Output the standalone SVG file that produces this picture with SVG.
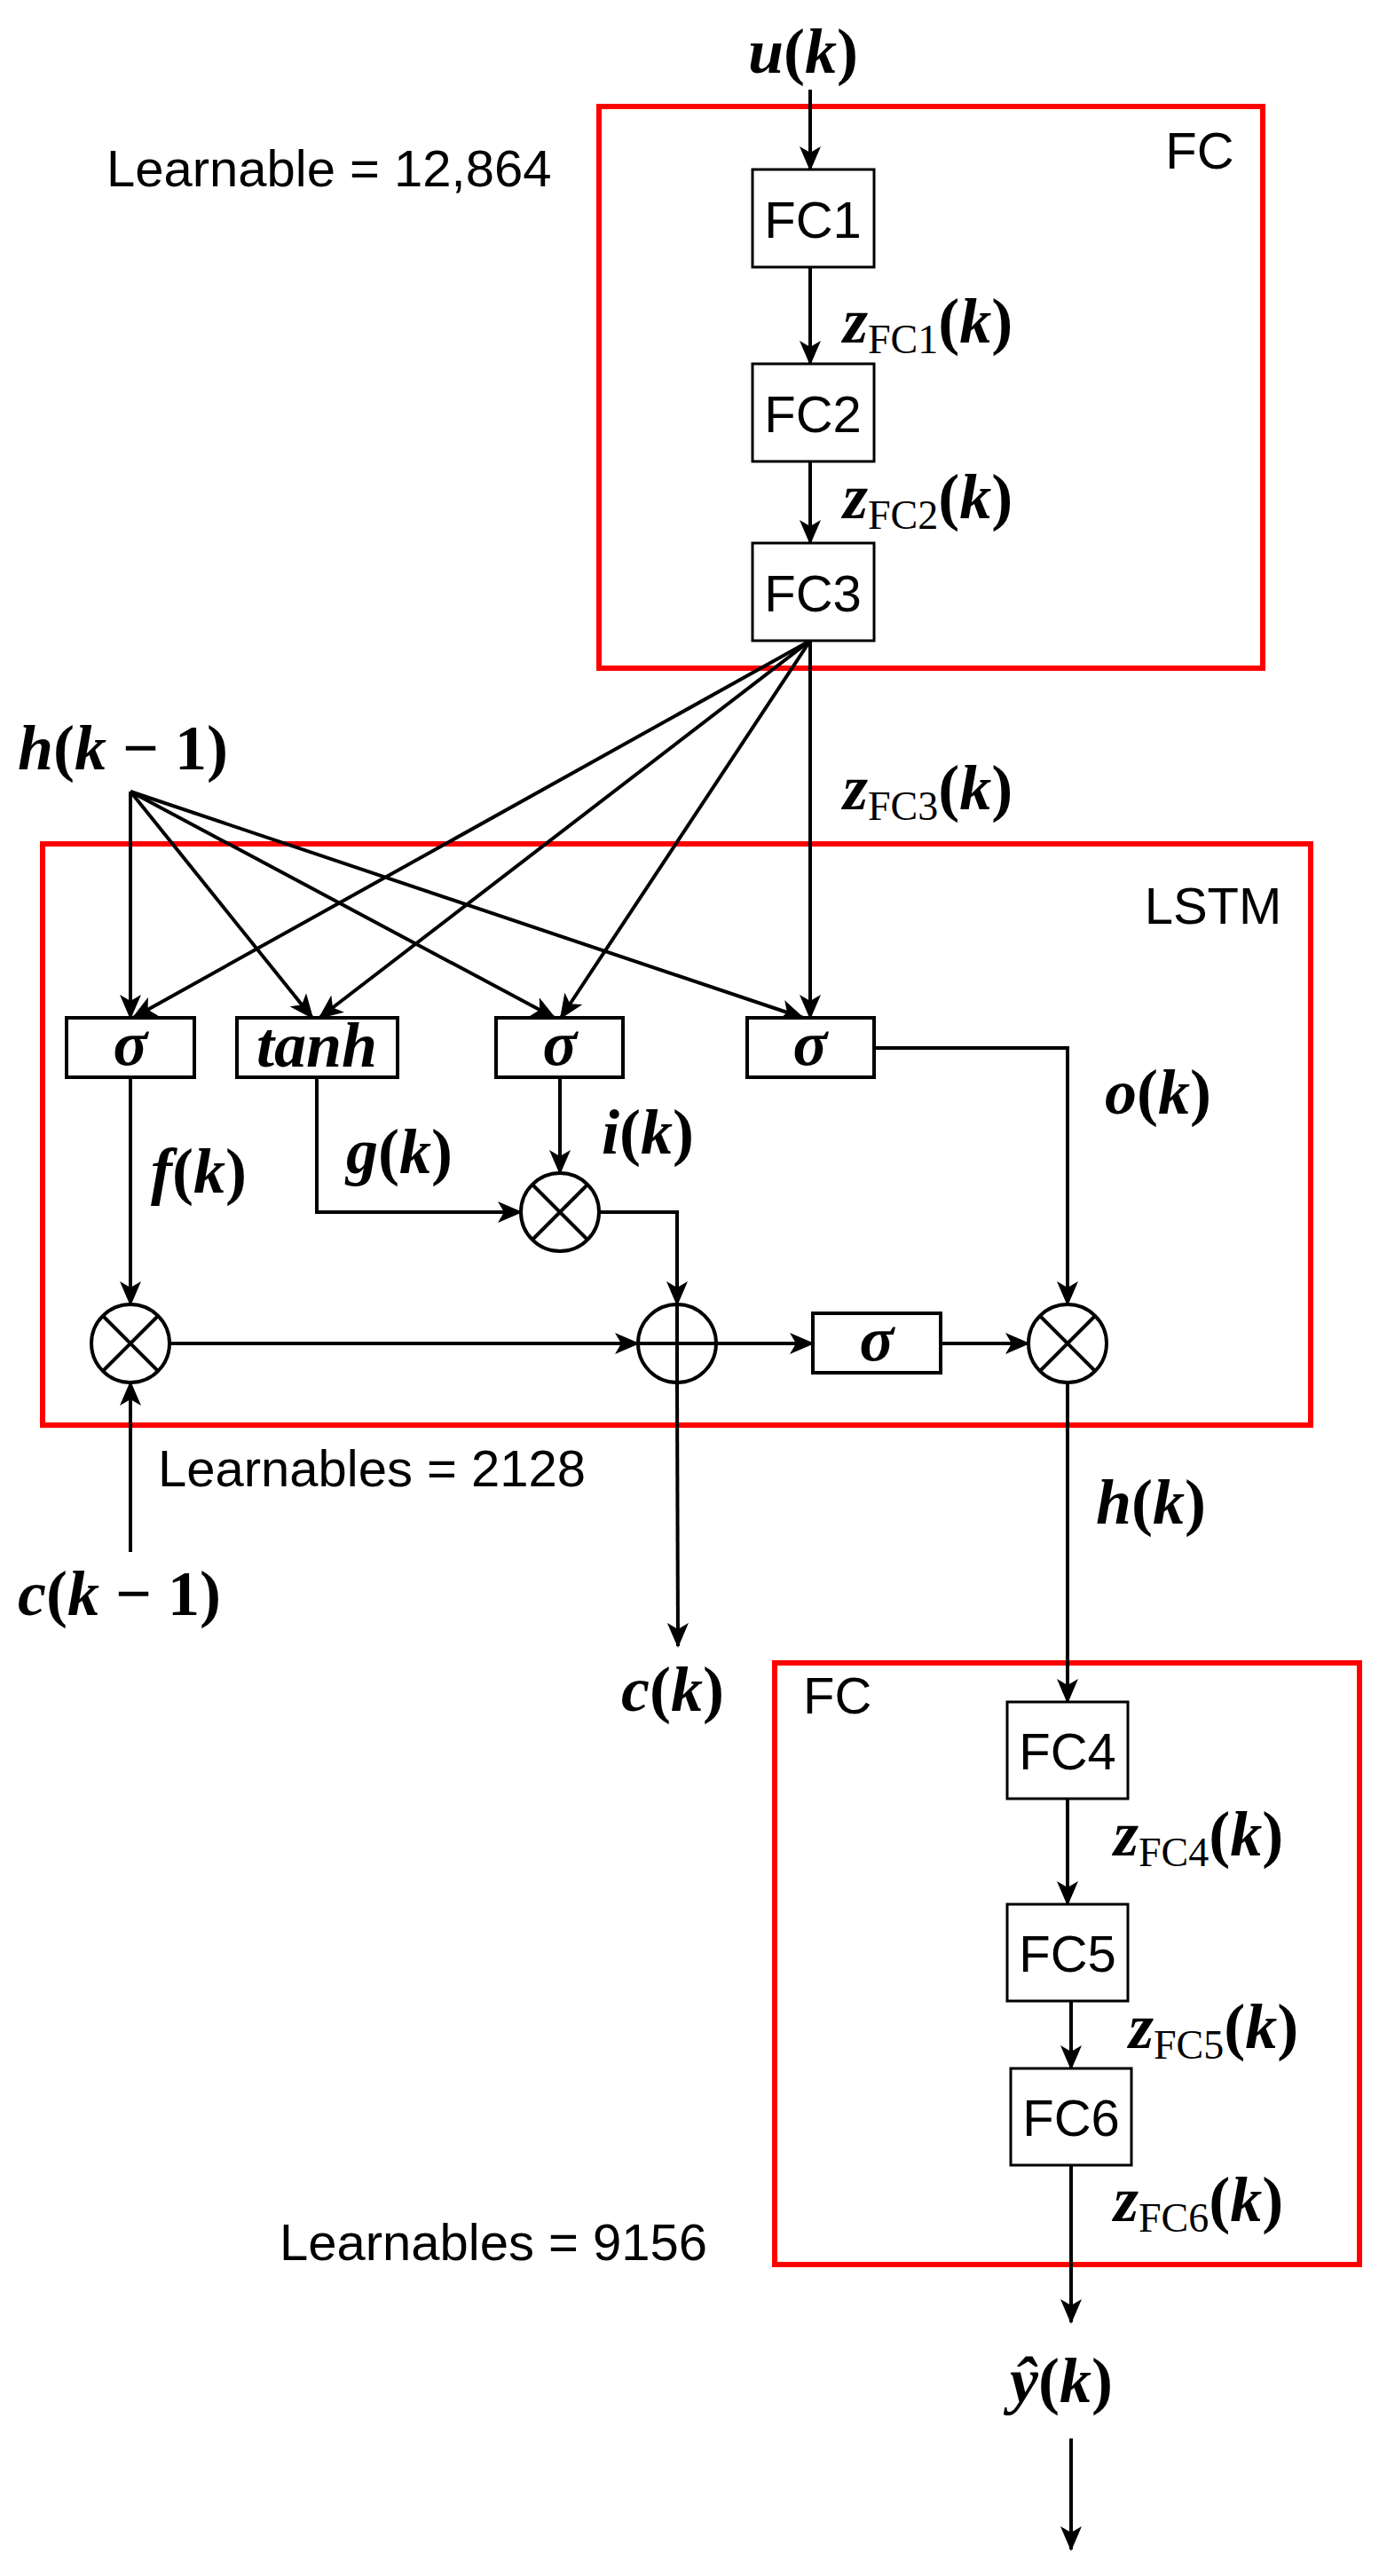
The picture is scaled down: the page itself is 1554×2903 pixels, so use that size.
<svg xmlns="http://www.w3.org/2000/svg" width="1554" height="2903" viewBox="0 0 1554 2903">
<style>
.ln{fill:none;stroke:#000;stroke-width:4}
.box{fill:#fff;stroke:#000;stroke-width:4}
.red{fill:none;stroke:#f00;stroke-width:6}
.sans{font-family:"Liberation Sans",Arial,sans-serif;font-size:58px;fill:#000}
.m{font-family:"Liberation Serif","DejaVu Serif",serif;font-size:72px;fill:#000;font-weight:bold}
.i{font-style:italic}
.sub{font-size:46px;font-weight:normal}
</style>
<defs>
<marker id="ah" markerUnits="userSpaceOnUse" markerWidth="28" markerHeight="24" refX="26" refY="12" orient="auto">
<path d="M0,0 L28,12 L0,24 L7,12 z" fill="#000"/>
</marker>
</defs>
<g id="groups">
<rect class="red" x="675" y="120" width="748" height="633"/>
<rect class="red" x="48" y="951" width="1429" height="655"/>
<rect class="red" x="873" y="1874" width="659" height="678"/>
</g>
<g id="connectors">
<line class="ln" x1="913" y1="101" x2="913" y2="191" marker-end="url(#ah)"/>
<line class="ln" x1="913" y1="301" x2="913" y2="410" marker-end="url(#ah)"/>
<line class="ln" x1="913" y1="520" x2="913" y2="612" marker-end="url(#ah)"/>
<line class="ln" x1="913" y1="722" x2="150" y2="1147" marker-end="url(#ah)"/>
<line class="ln" x1="913" y1="722" x2="360" y2="1147" marker-end="url(#ah)"/>
<line class="ln" x1="913" y1="722" x2="632" y2="1147" marker-end="url(#ah)"/>
<line class="ln" x1="913" y1="722" x2="913" y2="1147" marker-end="url(#ah)"/>
<line class="ln" x1="147" y1="892" x2="147" y2="1147" marker-end="url(#ah)"/>
<line class="ln" x1="147" y1="892" x2="352" y2="1147" marker-end="url(#ah)"/>
<line class="ln" x1="147" y1="892" x2="625" y2="1147" marker-end="url(#ah)"/>
<line class="ln" x1="147" y1="892" x2="905" y2="1147" marker-end="url(#ah)"/>
<line class="ln" x1="147" y1="1214" x2="147" y2="1470" marker-end="url(#ah)"/>
<polyline class="ln" points="357,1214 357,1366 587,1366" marker-end="url(#ah)"/>
<line class="ln" x1="631" y1="1214" x2="631" y2="1322" marker-end="url(#ah)"/>
<polyline class="ln" points="675,1366 763,1366 763,1470" marker-end="url(#ah)"/>
<polyline class="ln" points="985,1181 1203,1181 1203,1470" marker-end="url(#ah)"/>
<line class="ln" x1="191" y1="1514" x2="719" y2="1514" marker-end="url(#ah)"/>
<line class="ln" x1="807" y1="1514" x2="916" y2="1514" marker-end="url(#ah)"/>
<line class="ln" x1="1060" y1="1514" x2="1159" y2="1514" marker-end="url(#ah)"/>
<line class="ln" x1="147" y1="1749" x2="147" y2="1558" marker-end="url(#ah)"/>
<line class="ln" x1="763" y1="1558" x2="764" y2="1855" marker-end="url(#ah)"/>
<line class="ln" x1="1203" y1="1558" x2="1203" y2="1918" marker-end="url(#ah)"/>
<line class="ln" x1="1203" y1="2027" x2="1203" y2="2146" marker-end="url(#ah)"/>
<line class="ln" x1="1207" y1="2255" x2="1207" y2="2331" marker-end="url(#ah)"/>
<line class="ln" x1="1207" y1="2440" x2="1207" y2="2617" marker-end="url(#ah)"/>
<line class="ln" x1="1207" y1="2748" x2="1207" y2="2873" marker-end="url(#ah)"/>
</g>
<g id="FC1"><rect class="box" x="848" y="191" width="137" height="110" style="stroke-width:3"/><text class="sans" x="916" y="268" text-anchor="middle">FC1</text></g>
<g id="FC2"><rect class="box" x="848" y="410" width="137" height="110" style="stroke-width:3"/><text class="sans" x="916" y="487" text-anchor="middle">FC2</text></g>
<g id="FC3"><rect class="box" x="848" y="612" width="137" height="110" style="stroke-width:3"/><text class="sans" x="916" y="689" text-anchor="middle">FC3</text></g>
<g id="FC4"><rect class="box" x="1135" y="1918" width="136" height="109" style="stroke-width:3"/><text class="sans" x="1203" y="1994" text-anchor="middle">FC4</text></g>
<g id="FC5"><rect class="box" x="1135" y="2146" width="136" height="109" style="stroke-width:3"/><text class="sans" x="1203" y="2222" text-anchor="middle">FC5</text></g>
<g id="FC6"><rect class="box" x="1139" y="2331" width="136" height="109" style="stroke-width:3"/><text class="sans" x="1207" y="2407" text-anchor="middle">FC6</text></g>
<g id="gate_f"><rect class="box" x="75" y="1147" width="144" height="67"/><text class="m i" x="147" y="1200" text-anchor="middle">σ</text></g>
<g id="gate_g"><rect class="box" x="267" y="1147" width="181" height="67"/><text class="m i" x="357" y="1202" text-anchor="middle">tanh</text></g>
<g id="gate_i"><rect class="box" x="559" y="1147" width="143" height="67"/><text class="m i" x="631" y="1200" text-anchor="middle">σ</text></g>
<g id="gate_o"><rect class="box" x="842" y="1147" width="143" height="67"/><text class="m i" x="913" y="1200" text-anchor="middle">σ</text></g>
<g id="sigma_c"><rect class="box" x="916" y="1480" width="144" height="67"/><text class="m i" x="988" y="1533" text-anchor="middle">σ</text></g>
<g id="mult_f"><circle class="box" cx="147" cy="1514" r="44"/><path class="ln" d="M116,1483 L178,1545 M178,1483 L116,1545"/></g>
<g id="mult_i"><circle class="box" cx="631" cy="1366" r="44"/><path class="ln" d="M600,1335 L662,1397 M662,1335 L600,1397"/></g>
<g id="mult_o"><circle class="box" cx="1203" cy="1514" r="44"/><path class="ln" d="M1172,1483 L1234,1545 M1234,1483 L1172,1545"/></g>
<g id="plus"><circle class="box" cx="763" cy="1514" r="44"/><path class="ln" d="M719,1514 L807,1514 M763,1470 L763,1558"/></g>
<g id="labels">
<text class="sans" x="1352" y="190" text-anchor="middle">FC</text>
<text class="sans" x="1367" y="1041" text-anchor="middle">LSTM</text>
<text class="sans" x="905" y="1931">FC</text>
<text class="sans" x="120" y="210">Learnable = 12,864</text>
<text class="sans" x="178" y="1675">Learnables = 2128</text>
<text class="sans" x="315" y="2547">Learnables = 9156</text>
<text class="m" x="905" y="82" text-anchor="middle"><tspan class="i">u</tspan>(<tspan class="i">k</tspan>)</text>
<text class="m" x="950" y="386"><tspan class="i">z</tspan><tspan class="sub" dy="12">FC1</tspan><tspan dy="-12">(</tspan><tspan class="i">k</tspan>)</text>
<text class="m" x="950" y="584"><tspan class="i">z</tspan><tspan class="sub" dy="12">FC2</tspan><tspan dy="-12">(</tspan><tspan class="i">k</tspan>)</text>
<text class="m" x="950" y="912"><tspan class="i">z</tspan><tspan class="sub" dy="12">FC3</tspan><tspan dy="-12">(</tspan><tspan class="i">k</tspan>)</text>
<text class="m" x="20" y="867"><tspan class="i">h</tspan>(<tspan class="i">k</tspan> − 1)</text>
<text class="m" x="170" y="1344"><tspan class="i">f</tspan>(<tspan class="i">k</tspan>)</text>
<text class="m" x="390" y="1322"><tspan class="i">g</tspan>(<tspan class="i">k</tspan>)</text>
<text class="m" x="678" y="1300"><tspan class="i">i</tspan>(<tspan class="i">k</tspan>)</text>
<text class="m" x="1245" y="1255"><tspan class="i">o</tspan>(<tspan class="i">k</tspan>)</text>
<text class="m" x="1235" y="1717"><tspan class="i">h</tspan>(<tspan class="i">k</tspan>)</text>
<text class="m" x="20" y="1820"><tspan class="i">c</tspan>(<tspan class="i">k</tspan> − 1)</text>
<text class="m" x="700" y="1928"><tspan class="i">c</tspan>(<tspan class="i">k</tspan>)</text>
<text class="m" x="1255" y="2091"><tspan class="i">z</tspan><tspan class="sub" dy="12">FC4</tspan><tspan dy="-12">(</tspan><tspan class="i">k</tspan>)</text>
<text class="m" x="1272" y="2308"><tspan class="i">z</tspan><tspan class="sub" dy="12">FC5</tspan><tspan dy="-12">(</tspan><tspan class="i">k</tspan>)</text>
<text class="m" x="1255" y="2503"><tspan class="i">z</tspan><tspan class="sub" dy="12">FC6</tspan><tspan dy="-12">(</tspan><tspan class="i">k</tspan>)</text>
<text class="m" x="1196" y="2707" text-anchor="middle"><tspan class="i">ŷ</tspan>(<tspan class="i">k</tspan>)</text>
</g>
</svg>
